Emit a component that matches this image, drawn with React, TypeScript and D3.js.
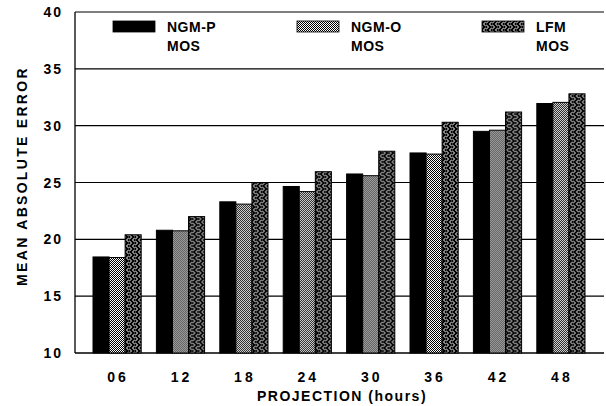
import React from 'react';
import * as d3 from 'd3';

const projections = ['06', '12', '18', '24', '30', '36', '42', '48'];
const seriesNames = ['NGM-P', 'NGM-O', 'LFM'];
const ngmP = [18.45, 20.8, 23.3, 24.65, 25.75, 27.6, 29.5, 31.95];
const ngmO = [18.4, 20.75, 23.1, 24.2, 25.6, 27.5, 29.6, 32.05];
const lfm = [20.4, 22.0, 25.0, 25.95, 27.75, 30.3, 31.2, 32.8];
const yTicks = [10, 15, 20, 25, 30, 35, 40];

const width = 606;
const height = 406;
const plotLeft = 75;
const plotRight = 604;
const fills = ['#000', 'url(#dots)', 'url(#weave)'];

// y axis; error values
const y = d3.scaleLinear().domain([10, 40]).range([353, 12]);

// x axis; projection groups
const x = d3.scaleBand<string>()
    .domain(projections)
    .range([93, 585])
    .paddingInner(0.24)
    .paddingOuter(0);

const xSub = d3.scaleBand<number>()
    .domain([0, 1, 2])
    .range([0, x.bandwidth()]);

const font = '"Liberation Sans", Arial, sans-serif';

const App = () => {
    const series = [ngmP, ngmO, lfm];
    const legendX = [113, 297, 482];

    return (
        <div style={{ position: 'fixed', left: 0, top: 0 }}>
            <svg width={width} height={height} style={{ display: 'block', background: '#fff' }}>
                <defs>
                    <pattern id="dots" width="2" height="2" patternUnits="userSpaceOnUse">
                        <rect width="2" height="2" fill="#fff" />
                        <rect width="1" height="1" fill="#000" />
                        <rect x="1" y="1" width="1" height="1" fill="#000" />
                    </pattern>
                    <pattern id="weave" width="6" height="6" patternUnits="userSpaceOnUse">
                        <rect width="6" height="6" fill="#000" />
                        <path d="M0 0.5 L2.5 3 L0 5.5 M3.5 0 L6 2.5 M3.5 6 L6 3.5" stroke="#fff" strokeWidth="1" fill="none" />
                    </pattern>
                </defs>

                {/* gridlines */}
                {yTicks.map(t => (
                    <line key={t} x1={plotLeft} x2={plotRight} y1={y(t)} y2={y(t)}
                        stroke="#000" strokeWidth={t === 10 ? 1.5 : 1.2} />
                ))}
                <line x1={plotLeft} x2={plotLeft} y1={y(40)} y2={y(10)} stroke="#000" strokeWidth={1.3} />

                {/* y tick labels */}
                {yTicks.map(t => (
                    <text key={t} x={63} y={y(t) + 5} textAnchor="end" fontFamily={font}
                        fontWeight="bold" fontSize={14} letterSpacing={2}>{t}</text>
                ))}

                {/* bars */}
                {projections.map((p, i) => (
                    <g key={p} transform={`translate(${x(p)},0)`}>
                        {series.map((s, j) => (
                            <rect key={j} x={xSub(j)} width={xSub.bandwidth()}
                                y={y(s[i])} height={y(10) - y(s[i])}
                                fill={fills[j]} stroke="#000" strokeWidth={1} />
                        ))}
                    </g>
                ))}

                {/* x tick labels */}
                {projections.map(p => (
                    <text key={p} x={(x(p) as number) + x.bandwidth() / 2 + 1} y={382} textAnchor="middle"
                        fontFamily={font} fontWeight="bold" fontSize={14} letterSpacing={3}>{p}</text>
                ))}

                {/* axis titles */}
                <text x={342} y={401} textAnchor="middle" fontFamily={font} fontWeight="bold"
                    fontSize={14} letterSpacing={1.5}>PROJECTION (hours)</text>
                <text transform="translate(27,176) rotate(-90)" textAnchor="middle" fontFamily={font}
                    fontWeight="bold" fontSize={14} letterSpacing={2.3}>MEAN ABSOLUTE ERROR</text>

                {/* legend */}
                {seriesNames.map((name, j) => (
                    <g key={name}>
                        <rect x={legendX[j]} y={21} width={42} height={11} fill={fills[j]} stroke="#000" strokeWidth={0.8} />
                        <text x={legendX[j] + 54} y={32} fontFamily={font} fontWeight="bold" fontSize={14} letterSpacing={0.5}>{name}</text>
                        <text x={legendX[j] + 54} y={51} fontFamily={font} fontWeight="bold" fontSize={14} letterSpacing={0.5}>MOS</text>
                    </g>
                ))}
            </svg>
        </div>
    );
};

export default App;
